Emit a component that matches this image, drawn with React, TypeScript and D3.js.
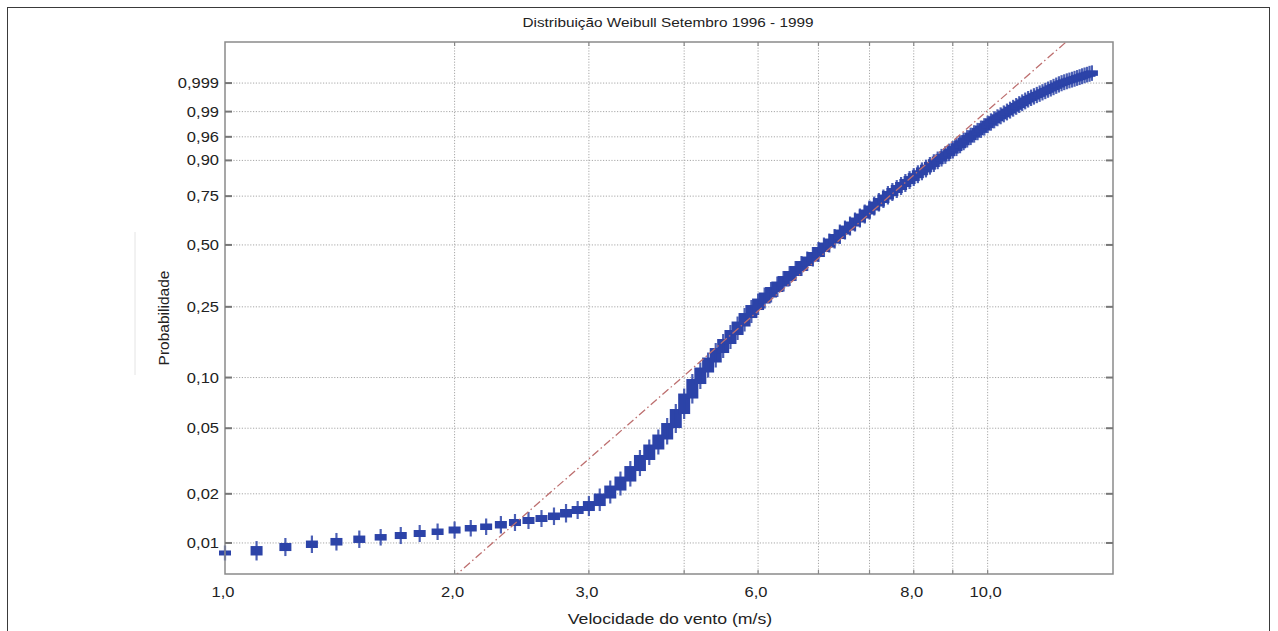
import React from 'react';
import * as d3 from 'd3';

// wind speed classes (m/s), one per 0.1 m/s
const speeds = [
  1.0, 1.1, 1.2, 1.3, 1.4, 1.5, 1.6, 1.7, 1.8, 1.9,
  2.0, 2.1, 2.2, 2.3, 2.4, 2.5, 2.6, 2.7, 2.8, 2.9,
  3.0, 3.1, 3.2, 3.3, 3.4, 3.5, 3.6, 3.7, 3.8, 3.9,
  4.0, 4.1, 4.2, 4.3, 4.4, 4.5, 4.6, 4.7, 4.8, 4.9,
  5.0, 5.1, 5.2, 5.3, 5.4, 5.5, 5.6, 5.7, 5.8, 5.9,
  6.0, 6.1, 6.2, 6.3, 6.4, 6.5, 6.6, 6.7, 6.8, 6.9,
  7.0, 7.1, 7.2, 7.3, 7.4, 7.5, 7.6, 7.7, 7.8, 7.9,
  8.0, 8.1, 8.2, 8.3, 8.4, 8.5, 8.6, 8.7, 8.8, 8.9,
  9.0, 9.1, 9.2, 9.3, 9.4, 9.5, 9.6, 9.7, 9.8, 9.9,
  10.0, 10.1, 10.2, 10.3, 10.4, 10.5, 10.6, 10.7, 10.8, 10.9,
  11.0, 11.1, 11.2, 11.3, 11.4, 11.5, 11.6, 11.7, 11.8, 11.9,
  12.0, 12.1, 12.2, 12.3, 12.4, 12.5, 12.6, 12.7, 12.8, 12.9,
  13.0, 13.1, 13.2, 13.3, 13.4, 13.5, 13.6, 13.7
];

// cumulative probability reached at each speed class
const probs = [
  0.00868, 0.00924, 0.00965, 0.00999, 0.01036, 0.01072, 0.01095, 0.01127, 0.01159, 0.01184,
  0.01218, 0.01244, 0.01271, 0.01316, 0.01354, 0.01393, 0.01432, 0.01484, 0.01559, 0.01626,
  0.01744, 0.01939, 0.02169, 0.02461, 0.02851, 0.03328, 0.03852, 0.04427, 0.05190, 0.06295,
  0.07783, 0.09477, 0.11063, 0.12641, 0.14329, 0.16120, 0.18105, 0.20176, 0.22447, 0.24789,
  0.26826, 0.28840, 0.30780, 0.32816, 0.34956, 0.36982, 0.39088, 0.41270, 0.43296, 0.45385,
  0.47762, 0.49948, 0.51935, 0.54205, 0.56509, 0.58572, 0.60656, 0.62744, 0.64831, 0.66917,
  0.68987, 0.71040, 0.72811, 0.74557, 0.76270, 0.77710, 0.79120, 0.80500, 0.81840, 0.83120,
  0.84340, 0.85510, 0.86620, 0.87650, 0.88620, 0.89570, 0.90450, 0.91270, 0.92050, 0.92770,
  0.93440, 0.94130, 0.94810, 0.95370, 0.95860, 0.96300, 0.96700, 0.97060, 0.97390, 0.97700,
  0.97990, 0.98240, 0.98443, 0.98615, 0.98772, 0.98911, 0.99035, 0.99150, 0.99251, 0.99342,
  0.99423, 0.99495, 0.99560, 0.99610, 0.99652, 0.99690, 0.99722, 0.99753, 0.99779, 0.99804,
  0.99825, 0.99845, 0.99863, 0.99879, 0.99893, 0.99904, 0.99912, 0.99920, 0.99926, 0.99932,
  0.99938, 0.99943, 0.99948, 0.99953, 0.99957, 0.99960, 0.99964, 0.99966
];

const yTicks = [0.01, 0.02, 0.05, 0.10, 0.25, 0.50, 0.75, 0.90, 0.96, 0.99, 0.999];
const yTickLabels = ['0,01', '0,02', '0,05', '0,10', '0,25', '0,50', '0,75', '0,90', '0,96', '0,99', '0,999'];
const xGrid = [2, 3, 4, 5, 6, 7, 8, 9, 10];
const xTickValues = [1, 2, 3, 5, 8, 10];
const xTickLabels = ['1,0', '2,0', '3,0', '6,0', '8,0', '10,0'];

// fitted weibull reference line
const fitScale = 6.87;
const fitShape = 4.11;

const width = 1278;
const height = 631;
const plot = { left: 225, right: 1113, top: 42, bottom: 574 };
const font = 'Arial, "Liberation Sans", sans-serif';
const blue = '#2c43a8';
const stretch = 1.18; // the source image is slightly widened

const weib = (p: number) => Math.log(-Math.log(1 - p));

function Label({ x, y, size, anchor, children }: any) {
  return (
    <text transform={`translate(${x},${y}) scale(${stretch},1)`} fontSize={size} textAnchor={anchor} fill="#222">
      {children}
    </text>
  );
}

export default function App() {
  const x = d3.scaleLog().domain([1, 14.6]).range([plot.left, plot.right]);
  const y = d3.scaleLinear().domain([-5.041, 2.516]).range([plot.bottom, plot.top]);

  const fitLine = d3.line<number>()
    .x(z => x(fitScale * Math.exp(z / fitShape)))
    .y(z => y(z));

  const markers = speeds.map((s, i) => {
    const yTop = y(weib(probs[i]));
    const yBot = i > 0 ? y(weib(probs[i - 1])) : yTop;
    return { cx: x(s), yTop, yBot };
  });

  return (
    <svg width={width} height={height} style={{ position: 'absolute', left: 0, top: 0, background: '#fff' }}
      fontFamily={font}>
      <defs>
        <clipPath id="plotClip">
          <rect x={plot.left} y={plot.top} width={plot.right - plot.left} height={plot.bottom - plot.top} />
        </clipPath>
      </defs>
      <rect x={7.5} y={7.5} width={1262} height={660} fill="none" stroke="#3a3a3a" strokeWidth={1} />
      <line x1={135} x2={135} y1={232} y2={375} stroke="#e4e4e4" />

      <Label x={668} y={27} size={13} anchor="middle">Distribuição Weibull Setembro 1996 - 1999</Label>

      {/* grid */}
      <g stroke="#a8a8a8" strokeWidth={1} strokeDasharray="1.2,1.6">
        {yTicks.map(t => (
          <line key={'h' + t} x1={plot.left} x2={plot.right} y1={y(weib(t))} y2={y(weib(t))} />
        ))}
        {xGrid.map(v => (
          <line key={'v' + v} x1={x(v)} x2={x(v)} y1={plot.top} y2={plot.bottom} />
        ))}
      </g>

      {/* data markers: stacked '+' per speed class */}
      <g fill={blue} stroke={blue}>
        {markers.map((m, i) => (
          <g key={i}>
            <rect x={m.cx - 6} y={m.yTop - 2.5} width={12} height={m.yBot - m.yTop + 5} stroke="none" />
            <line x1={m.cx} x2={m.cx} y1={m.yTop - 7.5} y2={m.yBot + 7.5} strokeWidth={2.2} strokeOpacity={0.85} />
          </g>
        ))}
      </g>

      <path d={fitLine([-5.1, 2.6]) || ''} clipPath="url(#plotClip)" fill="none" stroke="#bd6f6f"
        strokeWidth={1.3} strokeDasharray="8,3,1.5,3" />

      {/* axes box */}
      <rect x={plot.left} y={plot.top} width={plot.right - plot.left} height={plot.bottom - plot.top}
        fill="none" stroke="#8a8a8a" strokeWidth={1.5} />
      <g stroke="#777" strokeWidth={2}>
        {yTicks.map(t => (
          <g key={'t' + t}>
            <line x1={plot.left} x2={plot.left + 7} y1={y(weib(t))} y2={y(weib(t))} />
            <line x1={plot.right - 7} x2={plot.right} y1={y(weib(t))} y2={y(weib(t))} />
          </g>
        ))}
      </g>
      <g stroke="#888" strokeWidth={1.2}>
        {xGrid.map(v => (
          <g key={'xt' + v}>
            <line x1={x(v)} x2={x(v)} y1={plot.top} y2={plot.top + 4} />
            <line x1={x(v)} x2={x(v)} y1={plot.bottom - 4} y2={plot.bottom} />
          </g>
        ))}
      </g>

      {/* tick labels */}
      {yTicks.map((t, i) => (
        <Label key={'yl' + t} x={plot.left - 6} y={y(weib(t)) + 5} size={14} anchor="end">{yTickLabels[i]}</Label>
      ))}
      {xTickValues.map((v, i) => (
        <Label key={'xl' + v} x={x(v) - 2} y={597} size={14} anchor="middle">{xTickLabels[i]}</Label>
      ))}

      <Label x={670} y={624} size={15} anchor="middle">Velocidade do vento (m/s)</Label>
      <text transform="translate(169,318) rotate(-90)" textAnchor="middle" fontSize={15.5} fill="#222">
        Probabilidade
      </text>
    </svg>
  );
}
